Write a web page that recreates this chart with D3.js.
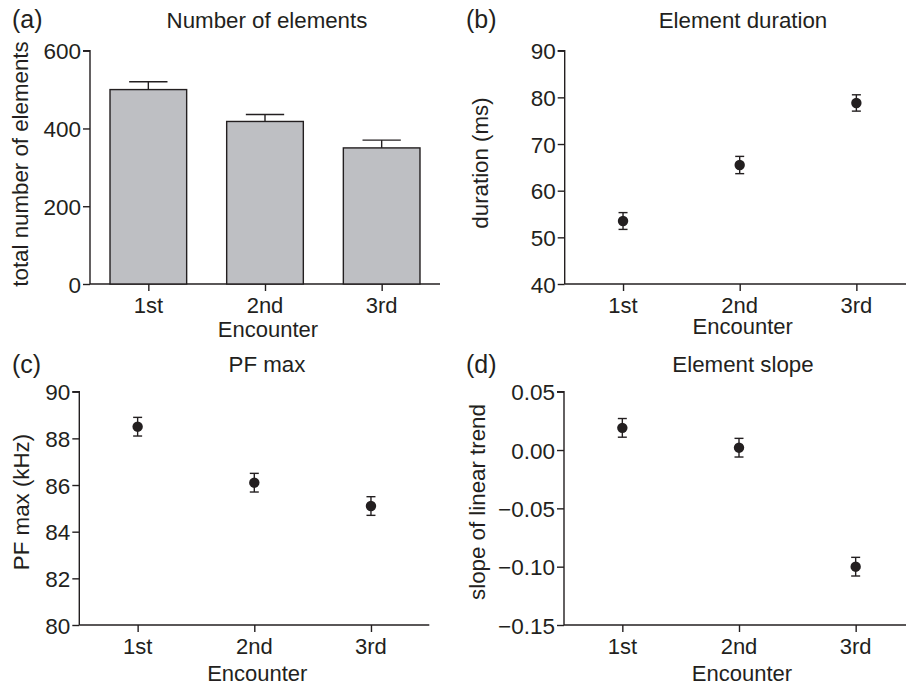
<!DOCTYPE html>
<html><head><meta charset="utf-8">
<script src="https://cdn.jsdelivr.net/npm/d3@7"></script>
<style>
body{margin:0;background:#fff;}
svg{display:block;}
text{font-family:"Liberation Sans",Arial,Helvetica,sans-serif;fill:#231f20;}
</style></head>
<body><svg id="c" width="906" height="688"></svg>
<script>
const categories = ["1st","2nd","3rd"];
// (a) Number of elements
const countMean = [500, 418, 350];
const countErr  = [20, 18, 20];
// (b) Element duration (ms)
const durMean = [53.5, 65.5, 78.8];
const durErr  = [1.8, 1.85, 1.75];
// (c) PF max (kHz)
const pfMean = [88.5, 86.1, 85.1];
const pfErr  = [0.4, 0.4, 0.4];
// (d) Element slope
const slopeMean = [0.019, 0.002, -0.100];
const slopeErr  = [0.008, 0.008, 0.008];

const tickA = [0,200,400,600];
const tickB = [40,50,60,70,80,90];
const tickC = [80,82,84,86,88,90];
const tickD = [-0.15,-0.10,-0.05,0.00,0.05];

const svg = d3.select("#c");
const ink = "#231f20";

const panels = [
  {tag:"(a)", title:"Number of elements", ylab:"total number of elements", type:"bar",
   mean:countMean, err:countErr, dom:[0,600], ticks:tickA, fmt:d3.format("d"),
   ax:90, top:50.7, bot:284, tagX:12, tagY:28, titleX:267, titleY:28,
   ylabX:27.5, ylabY:164, tickLabY:313, encY:337},
  {tag:"(b)", title:"Element duration", ylab:"duration (ms)", type:"dot",
   mean:durMean, err:durErr, dom:[40,90], ticks:tickB, fmt:d3.format("d"),
   ax:564.7, top:50.7, bot:284, tagX:466, tagY:28, titleX:743, titleY:28,
   ylabX:488, ylabY:163, tickLabY:313, encY:334},
  {tag:"(c)", title:"PF max", ylab:"PF max (kHz)", type:"dot",
   mean:pfMean, err:pfErr, dom:[80,90], ticks:tickC, fmt:d3.format("d"),
   ax:79.3, top:391.7, bot:625, tagX:12, tagY:373, titleX:267, titleY:372,
   ylabX:28.5, ylabY:502, tickLabY:654, encY:681},
  {tag:"(d)", title:"Element slope", ylab:"slope of linear trend", type:"dot",
   mean:slopeMean, err:slopeErr, dom:[-0.15,0.05], ticks:tickD,
   fmt:v => d3.format(".2f")(v),
   ax:564, top:391.7, bot:625, tagX:466, tagY:373, titleX:743, titleY:372,
   ylabX:485, ylabY:502, tickLabY:654, encY:681}
];

panels.forEach(p => {
  const g = svg.append("g");
  const x = d3.scalePoint().domain(categories).range([p.ax, p.ax+350]).padding(0.5);
  const y = d3.scaleLinear().domain(p.dom).range([p.bot, p.top]);

  // y axis
  const ya = g.append("g").attr("transform",`translate(${p.ax},0)`)
    .call(d3.axisLeft(y).tickValues(p.ticks).tickFormat(p.fmt).tickSize(7).tickPadding(2));
  ya.select(".domain").attr("stroke",ink).attr("stroke-width",1.4).attr("d",`M-7,${p.top}H0V${p.bot}`);
  ya.selectAll(".tick line").attr("stroke",ink).attr("stroke-width",1.4);
  ya.selectAll(".tick text").attr("font-size",22.5).attr("fill",ink)
    .style("font-family","'Liberation Sans',Arial,sans-serif").attr("dy","0.36em");

  // x axis
  const xa = g.append("g").attr("transform",`translate(0,${p.bot})`)
    .call(d3.axisBottom(x).tickSize(7).tickFormat(()=>""));
  xa.select(".domain").attr("stroke",ink).attr("stroke-width",1.4).attr("d",`M${p.ax},0H${p.ax+350}`);
  xa.selectAll(".tick line").attr("stroke",ink).attr("stroke-width",1.4);

  g.selectAll(".xl").data(categories).join("text")
    .attr("x", d => x(d)).attr("y", p.tickLabY).attr("text-anchor","middle")
    .attr("font-size",22).text(d=>d);

  g.append("text").attr("x", x("2nd")+3).attr("y",p.encY)
    .attr("text-anchor","middle").attr("font-size",22).text("Encounter");

  g.append("text").attr("x",p.titleX).attr("y",p.titleY).attr("text-anchor","middle")
    .attr("font-size",22.3).text(p.title);
  g.append("text").attr("x",p.tagX).attr("y",p.tagY).attr("font-size",25).text(p.tag);
  g.append("text").attr("transform",`translate(${p.ylabX},${p.ylabY}) rotate(-90)`)
    .attr("text-anchor","middle").attr("font-size",22.3).text(p.ylab);

  const data = categories.map((c,i)=>({c, m:p.mean[i], e:p.err[i]}));
  if (p.type === "bar") {
    const bw = x.step()*0.657;
    g.selectAll(".bar").data(data).join("rect")
      .attr("x", d => x(d.c)-bw/2).attr("width", bw)
      .attr("y", d => y(d.m)).attr("height", d => y(0)-y(d.m))
      .attr("fill","#bebfc3").attr("stroke",ink).attr("stroke-width",1.4);
    g.selectAll(".ev").data(data).join("line")
      .attr("x1", d=>x(d.c)).attr("x2", d=>x(d.c))
      .attr("y1", d=>y(d.m)).attr("y2", d=>y(d.m+d.e))
      .attr("stroke",ink).attr("stroke-width",1.4);
    g.selectAll(".ec").data(data).join("line")
      .attr("x1", d=>x(d.c)-bw/4).attr("x2", d=>x(d.c)+bw/4)
      .attr("y1", d=>y(d.m+d.e)).attr("y2", d=>y(d.m+d.e))
      .attr("stroke",ink).attr("stroke-width",1.4);
  } else {
    g.selectAll(".ev").data(data).join("line")
      .attr("x1", d=>x(d.c)).attr("x2", d=>x(d.c))
      .attr("y1", d=>y(d.m-d.e)).attr("y2", d=>y(d.m+d.e))
      .attr("stroke",ink).attr("stroke-width",1.4);
    [1,-1].forEach(s => {
      g.selectAll(".ec"+s).data(data).join("line")
        .attr("x1", d=>x(d.c)-4.5).attr("x2", d=>x(d.c)+4.5)
        .attr("y1", d=>y(d.m+s*d.e)).attr("y2", d=>y(d.m+s*d.e))
        .attr("stroke",ink).attr("stroke-width",1.4);
    });
    g.selectAll(".pt").data(data).join("circle")
      .attr("cx", d=>x(d.c)).attr("cy", d=>y(d.m)).attr("r",5.2).attr("fill",ink);
  }
});
</script></body></html>
